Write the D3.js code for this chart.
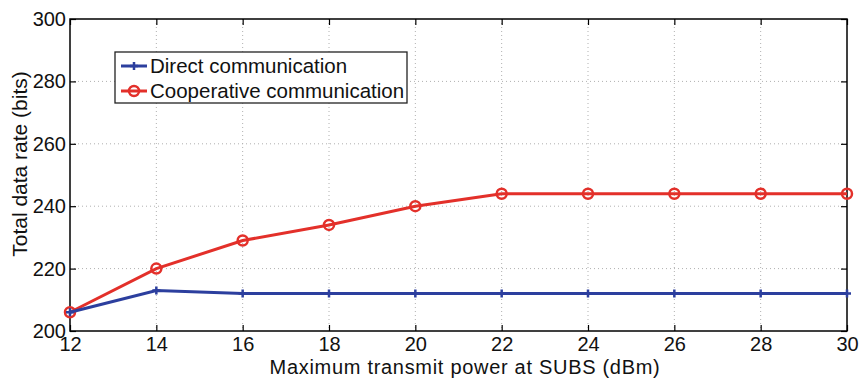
<!DOCTYPE html>
<html>
<head>
<meta charset="utf-8">
<script src="https://cdn.jsdelivr.net/npm/d3@7"></script>
<style>
  body { margin: 0; background: #fff; }
  text { font-family: "Liberation Sans", Arial, sans-serif; fill: #111; }
</style>
</head>
<body>
<div id="chart"></div>
<script>
const powers = [12, 14, 16, 18, 20, 22, 24, 26, 28, 30];
const direct = [206, 213, 212, 212, 212, 212, 212, 212, 212, 212];
const cooperative = [206, 220, 229, 234, 240, 244, 244, 244, 244, 244];
const xTicks = [12, 14, 16, 18, 20, 22, 24, 26, 28, 30];
const yTicks = [200, 220, 240, 260, 280, 300];

const width = 860, height = 380;
const margin = {top: 19, right: 13, bottom: 49, left: 70};
const w = width - margin.left - margin.right;
const h = height - margin.top - margin.bottom;

const svg = d3.select("#chart").append("svg")
	.attr("width", width)
	.attr("height", height);

const g = svg.append("g").attr("transform", `translate(${margin.left},${margin.top})`);

const x = d3.scaleLinear().domain([12, 30]).range([0, w]);
const y = d3.scaleLinear().domain([200, 300]).range([h, 0]);

// dotted grid
g.append("g").selectAll("line").data(xTicks.slice(1, -1)).enter().append("line")
	.attr("x1", d => x(d)).attr("x2", d => x(d))
	.attr("y1", 0).attr("y2", h)
	.attr("stroke", "#b0b0b0").attr("stroke-width", 1).attr("stroke-dasharray", "1,3");
g.append("g").selectAll("line").data(yTicks.slice(1, -1)).enter().append("line")
	.attr("x1", 0).attr("x2", w)
	.attr("y1", d => y(d)).attr("y2", d => y(d))
	.attr("stroke", "#b0b0b0").attr("stroke-width", 1).attr("stroke-dasharray", "1,3");

// axes, ticks inward
const axisStyle = sel => {
	sel.select(".domain").remove();
	sel.selectAll(".tick line").attr("stroke", "#000").attr("stroke-width", 1.2);
	sel.selectAll(".tick text").style("font-size", "20px").attr("fill", "#111");
};
g.append("g").attr("transform", `translate(0,${h})`)
	.call(d3.axisBottom(x).tickValues(xTicks).tickSize(-6).tickPadding(6))
	.call(axisStyle);
g.append("g")
	.call(d3.axisLeft(y).tickValues(yTicks).tickSize(-6).tickPadding(4))
	.call(axisStyle);
g.append("g")
	.call(d3.axisTop(x).tickValues(xTicks).tickSize(-6).tickFormat(""))
	.call(axisStyle);
g.append("g").attr("transform", `translate(${w},0)`)
	.call(d3.axisRight(y).tickValues(yTicks).tickSize(-6).tickFormat(""))
	.call(axisStyle);

g.append("rect").attr("width", w).attr("height", h)
	.attr("fill", "none").attr("stroke", "#000").attr("stroke-width", 1.5);

const line = d3.line().x((d, i) => x(powers[i])).y(d => y(d));

const blue = "#2c3f9e", red = "#e3302a";

// cooperative
g.append("path").datum(cooperative).attr("d", line)
	.attr("fill", "none").attr("stroke", red).attr("stroke-width", 3);
g.append("g").selectAll("circle").data(cooperative).enter().append("circle")
	.attr("cx", (d, i) => x(powers[i])).attr("cy", d => y(d)).attr("r", 5)
	.attr("fill", "none").attr("stroke", red).attr("stroke-width", 2.5);

// direct
g.append("path").datum(direct).attr("d", line)
	.attr("fill", "none").attr("stroke", blue).attr("stroke-width", 3);
g.append("g").selectAll("path").data(direct).enter().append("path")
	.attr("d", (d, i) => `M${x(powers[i]) - 4},${y(d)}h8M${x(powers[i])},${y(d) - 4}v8`)
	.attr("stroke", blue).attr("stroke-width", 2.5);

// legend
const legend = svg.append("g").attr("transform", "translate(115,52)");
legend.append("rect").attr("width", 292).attr("height", 51)
	.attr("fill", "#fff").attr("stroke", "#222").attr("stroke-width", 1.3);
const items = [
	{name: "Direct communication", color: blue, mark: "plus"},
	{name: "Cooperative communication", color: red, mark: "circle"}
];
items.forEach((it, i) => {
	const yy = 14 + i * 25;
	legend.append("line").attr("x1", 6).attr("x2", 32).attr("y1", yy).attr("y2", yy)
		.attr("stroke", it.color).attr("stroke-width", 3);
	if (it.mark === "plus") {
		legend.append("path").attr("d", `M15,${yy}h8M19,${yy - 4}v8`)
			.attr("stroke", it.color).attr("stroke-width", 2.5);
	} else {
		legend.append("circle").attr("cx", 19).attr("cy", yy).attr("r", 5)
			.attr("fill", "none").attr("stroke", it.color).attr("stroke-width", 2.5);
	}
	legend.append("text").attr("x", 35).attr("y", yy + 7)
		.style("font-size", "20.5px").text(it.name);
});

// axis labels
svg.append("text").attr("x", 465).attr("y", 373.5)
	.attr("text-anchor", "middle").style("font-size", "20px")
	.style("letter-spacing", "0.7px")
	.text("Maximum transmit power at SUBS (dBm)");
svg.append("text")
	.attr("transform", "translate(27,164) rotate(-90)")
	.attr("text-anchor", "middle").style("font-size", "21px")
	.text("Total data rate (bits)");
</script>
</body>
</html>
